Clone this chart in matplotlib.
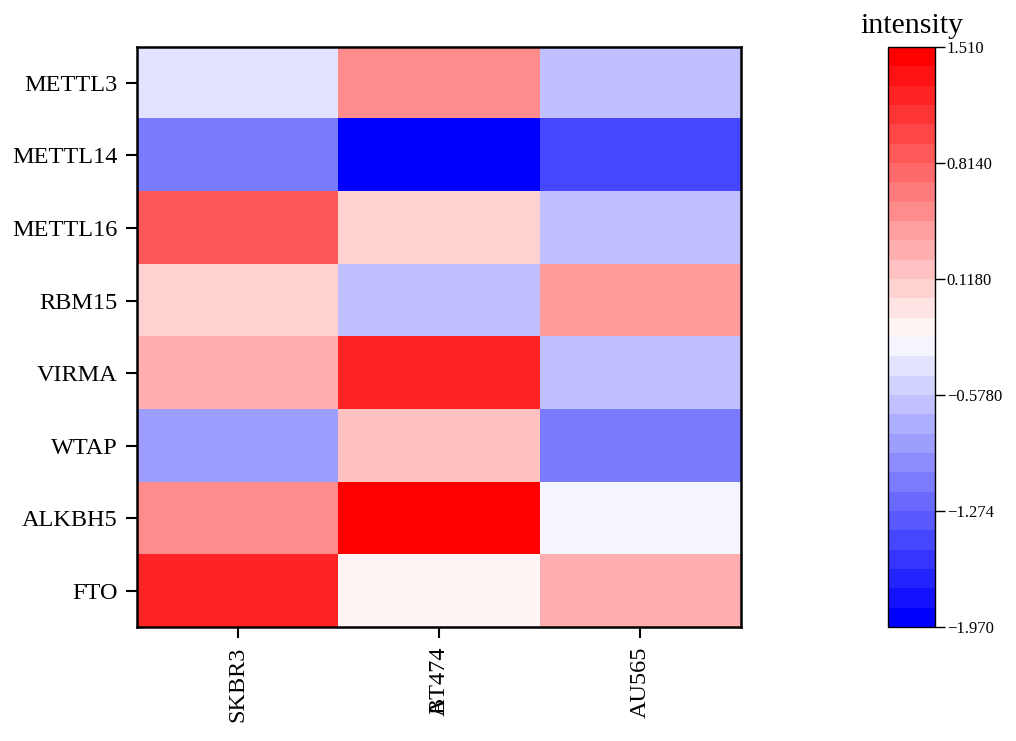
import numpy as np
import matplotlib
matplotlib.use("Agg")
import matplotlib.pyplot as plt
from matplotlib.colors import ListedColormap, BoundaryNorm
from matplotlib.transforms import blended_transform_factory

# values (rows = genes, columns = cell lines)
genes = ["METTL3", "METTL14", "METTL16", "RBM15", "VIRMA", "WTAP", "ALKBH5", "FTO"]
cell_lines = ["SKBR3", "BT474", "AU565"]
intensity = np.array([
    [-0.404, 0.524, -0.636],
    [-1.100, -1.970, -1.448],
    [0.872, 0.060, -0.636],
    [0.060, -0.636, 0.408],
    [0.292, 1.220, -0.636],
    [-0.868, 0.176, -1.100],
    [0.524, 1.510, -0.288],
    [1.220, -0.172, 0.292],
])
vmin, vmax = -1.970, 1.510
cbar_ticks = [1.510, 0.8140, 0.1180, -0.5780, -1.274, -1.970]
cbar_ticklabels = ["1.510", "0.8140", "0.1180", "\u22120.5780", "\u22121.274", "\u22121.970"]

plt.rcParams['font.family'] = ['Liberation Serif', 'DejaVu Serif']

# 30 discrete levels, blue -> white -> red
n_half = 15
step = 17.5 / 255
blues = [(k * step, k * step, 1.0) for k in range(n_half)]
reds = [(1.0, r * step, r * step) for r in range(n_half - 1, -1, -1)]
cmap = ListedColormap(blues + reds)
bounds = np.linspace(vmin, vmax, 2 * n_half + 1)
norm = BoundaryNorm(bounds, cmap.N)

fig = plt.figure(figsize=(10.16, 7.41), dpi=100)
ax = fig.add_axes([0.1348, 0.1538, 0.5945, 0.7832])
im = ax.imshow(intensity, cmap=cmap, norm=norm, aspect='auto', interpolation='nearest')

ax.set_xticks(range(len(cell_lines)))
ax.set_xticklabels(cell_lines, rotation=90, fontsize=17.5)
ax.set_yticks(range(len(genes)))
ax.set_yticklabels(genes, fontsize=17.5)
ax.tick_params(axis='both', direction='out', length=8, width=1.5, pad=6)
for sp in ax.spines.values():
    sp.set_linewidth(1.8)

# stray overlapping label under BT474
trans = blended_transform_factory(ax.transData, fig.transFigure)
ax.text(1, 0.034, "A", rotation=90, ha='center', va='bottom', fontsize=17.5, transform=trans)

cax = fig.add_axes([0.874, 0.1538, 0.0463, 0.7828])
cb = fig.colorbar(im, cax=cax, boundaries=bounds, ticks=cbar_ticks)
cb.ax.minorticks_off()
cb.ax.set_yticks(cbar_ticks)
cb.ax.set_yticklabels(cbar_ticklabels, fontsize=12)
cb.ax.tick_params(direction='out', length=7, width=1, pad=1.5)
cb.outline.set_linewidth(1)
cb.ax.set_title("intensity", fontsize=21.5, pad=10)

fig.savefig("out.png", dpi=100)
